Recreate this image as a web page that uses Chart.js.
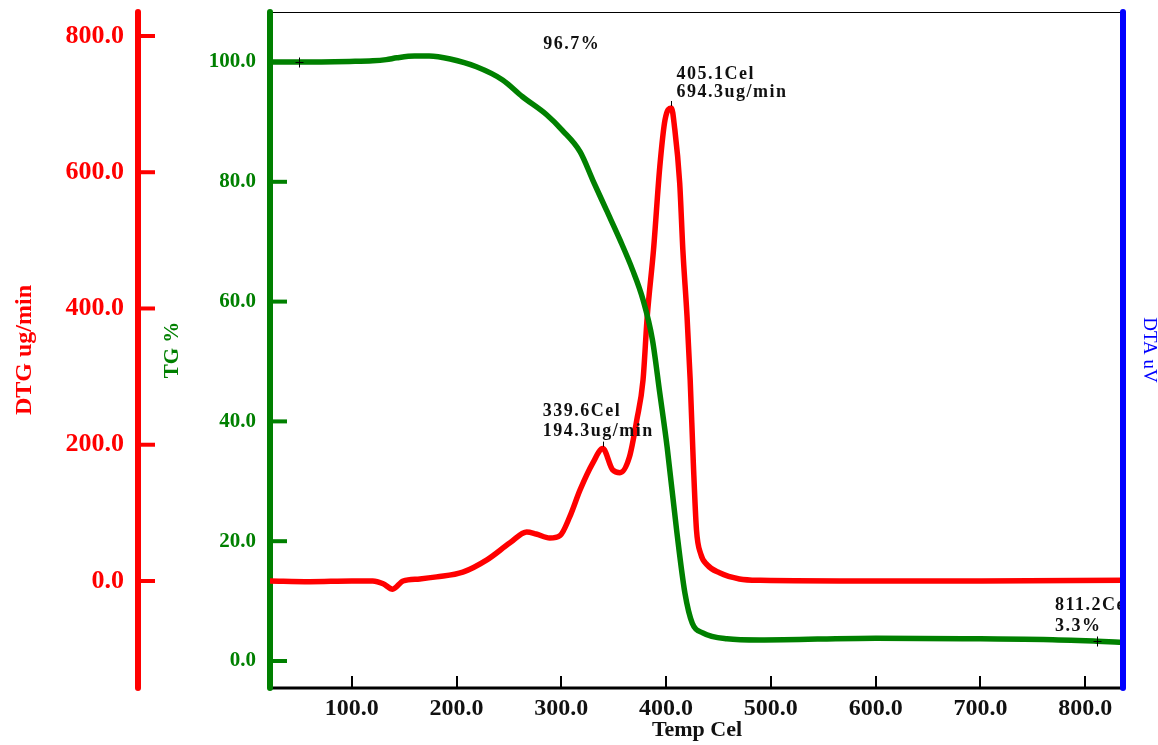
<!DOCTYPE html>
<html>
<head>
<meta charset="utf-8">
<script src="https://cdn.jsdelivr.net/npm/chart.js@4.4.1/dist/chart.umd.min.js"></script>
<style>
  body { margin: 0; background: #fff; }
  #wrap { width: 1158px; height: 745px; }
</style>
</head>
<body>
<div id="wrap"><canvas id="chart" width="1158" height="745"></canvas></div>
<script>
// tick values
const tempTicks = [100, 200, 300, 400, 500, 600, 700, 800];
const tgTicks = [0, 20, 40, 60, 80, 100];
const dtgTicks = [0, 200, 400, 600, 800];

// TG curve (%)
const tgTemp = [22, 50, 98, 120, 133, 143, 160, 174, 194, 219, 244, 263, 286, 301, 318, 330, 343, 356, 368, 378, 387, 394, 401, 410, 418, 425, 435, 458, 489, 600, 700, 760, 811.2, 837];
const tgValues = [100.0, 100.0, 100.1, 100.2, 100.4, 100.7, 101.0, 101.0, 100.5, 99.2, 97.0, 94.2, 91.2, 88.6, 85.0, 80.3, 75.3, 70.3, 65.3, 60.3, 53.6, 44.7, 35.7, 21.9, 11.3, 6.3, 4.7, 3.7, 3.5, 3.8, 3.7, 3.6, 3.3, 3.1];

// DTG curve (ug/min)
const dtgTemp = [22, 60, 100, 120, 130, 139, 149, 165, 181, 206, 229, 251, 267, 276, 289, 299, 308, 318, 330, 339.6, 349, 356, 365, 372, 378, 382, 388, 394, 399, 405.1, 408, 413, 416, 420, 423, 426, 429, 433, 439, 451, 470, 490, 600, 700, 837];
const dtgValues = [0, -1, 0, 0, -4, -12, 0, 3, 6, 13, 31, 56, 72, 69, 63, 67, 94, 134, 173, 194.3, 163, 159, 182, 236, 295, 388, 486, 608, 677, 694.3, 667, 584, 486, 388, 295, 173, 75, 40, 24, 12, 3, 1, 0, 0, 1];

// annotations
const noteLines = [['96.7%'], ['405.1Cel', '694.3ug/min'], ['339.6Cel', '194.3ug/min'], ['811.2Cel', '3.3%']];
const noteTemp = [300, 405.1, 339.6, 811.2];
const noteValue = [100, 694.3, 194.3, 3.3];
const noteAxis = ['yTG', 'yDTG', 'yDTG', 'yTG'];
const markTemp = [50, 811.2];
const markValue = [100, 3.3];

const RED = '#ff0000', GREEN = '#008000', BLUE = '#0000ff';
const SERIF = "'Liberation Serif', 'Times New Roman', serif";

function pts(xs, ys) {
  return xs.map((x, i) => ({ x: x, y: ys[i] }));
}

// label offsets in px from the anchor point: [dx, dy of first baseline, line gap]
const noteOffsets = [[-18, -13, 0], [5, -29, 18.5], [-60, -33, 20], [-42, -31, 20.5]];

// drop the extra room chart.js keeps for half tick labels
function noPad(s) {
  s.paddingTop = 0;
  s.paddingBottom = 0;
  s.paddingLeft = 0;
  s.paddingRight = 0;
}

const axesPlugin = {
  id: 'axesPlugin',
  beforeDatasetsDraw(chart) {
    const ctx = chart.ctx;
    const a = chart.chartArea;
    const sx = chart.scales.x, sTG = chart.scales.yTG, sDTG = chart.scales.yDTG;
    ctx.save();
    ctx.lineCap = 'butt';
    // top frame line
    ctx.strokeStyle = '#000';
    ctx.lineWidth = 1;
    ctx.beginPath();
    ctx.moveTo(a.left, a.top + 0.5);
    ctx.lineTo(a.right, a.top + 0.5);
    ctx.stroke();
    // bottom axis
    ctx.lineWidth = 3;
    ctx.beginPath();
    ctx.moveTo(a.left, a.bottom);
    ctx.lineTo(a.right, a.bottom);
    ctx.stroke();
    ctx.lineWidth = 2;
    tempTicks.forEach(v => {
      const px = Math.round(sx.getPixelForValue(v));
      ctx.beginPath();
      ctx.moveTo(px, a.bottom);
      ctx.lineTo(px, a.bottom - 12);
      ctx.stroke();
    });
    // DTG axis (red)
    const rx = sDTG.right;
    ctx.strokeStyle = RED;
    ctx.lineWidth = 6;
    ctx.lineCap = 'round';
    ctx.beginPath();
    ctx.moveTo(rx, a.top);
    ctx.lineTo(rx, a.bottom);
    ctx.stroke();
    ctx.lineWidth = 4;
    ctx.lineCap = 'butt';
    dtgTicks.forEach(v => {
      const py = sDTG.getPixelForValue(v);
      ctx.beginPath();
      ctx.moveTo(rx, py);
      ctx.lineTo(rx + 17, py);
      ctx.stroke();
    });
    // TG axis (green)
    ctx.strokeStyle = GREEN;
    ctx.lineWidth = 6;
    ctx.lineCap = 'round';
    ctx.beginPath();
    ctx.moveTo(a.left, a.top);
    ctx.lineTo(a.left, a.bottom);
    ctx.stroke();
    ctx.lineWidth = 4;
    ctx.lineCap = 'butt';
    tgTicks.forEach(v => {
      const py = sTG.getPixelForValue(v);
      ctx.beginPath();
      ctx.moveTo(a.left, py);
      ctx.lineTo(a.left + 17, py);
      ctx.stroke();
    });
    ctx.restore();
  },
  afterDatasetsDraw(chart) {
    const ctx = chart.ctx;
    const a = chart.chartArea;
    const sx = chart.scales.x;
    ctx.save();
    // markers
    ctx.strokeStyle = '#000';
    ctx.lineWidth = 1;
    markTemp.forEach((t, i) => {
      const px = Math.round(sx.getPixelForValue(t)) + 0.5;
      const py = Math.round(chart.scales.yTG.getPixelForValue(markValue[i])) + 0.5;
      ctx.beginPath();
      ctx.moveTo(px - 4, py);
      ctx.lineTo(px + 4, py);
      ctx.moveTo(px, py - 5);
      ctx.lineTo(px, py + 5);
      ctx.stroke();
    });
    // text notes
    ctx.beginPath();
    ctx.rect(a.left, a.top, a.right - a.left - 3, a.bottom - a.top);
    ctx.clip();
    ctx.fillStyle = '#111';
    ctx.font = 'bold 18px ' + SERIF;
    ctx.letterSpacing = '1.5px';
    ctx.textAlign = 'left';
    ctx.textBaseline = 'alphabetic';
    noteLines.forEach((lines, i) => {
      const px = sx.getPixelForValue(noteTemp[i]);
      const py = chart.scales[noteAxis[i]].getPixelForValue(noteValue[i]);
      const off = noteOffsets[i];
      if (noteAxis[i] === 'yDTG') {
        ctx.beginPath();
        ctx.moveTo(Math.round(px) + 0.5, py - 7);
        ctx.lineTo(Math.round(px) + 0.5, py - 2);
        ctx.stroke();
      }
      lines.forEach((s, j) => {
        ctx.fillText(s, px + off[0], py + off[1] + j * off[2]);
      });
    });
    ctx.restore();
    // right DTA axis (blue)
    ctx.save();
    ctx.strokeStyle = BLUE;
    ctx.lineWidth = 6;
    ctx.lineCap = 'round';
    ctx.beginPath();
    ctx.moveTo(a.right - 1, a.top);
    ctx.lineTo(a.right - 1, a.bottom);
    ctx.stroke();
    ctx.restore();
  }
};

new Chart(document.getElementById('chart'), {
  type: 'line',
  data: {
    datasets: [
      {
        label: 'TG',
        data: pts(tgTemp, tgValues),
        yAxisID: 'yTG',
        borderColor: GREEN,
        borderWidth: 5.5,
        pointRadius: 0,
        cubicInterpolationMode: 'monotone'
      },
      {
        label: 'DTG',
        data: pts(dtgTemp, dtgValues),
        yAxisID: 'yDTG',
        borderColor: RED,
        borderWidth: 5.5,
        pointRadius: 0,
        cubicInterpolationMode: 'monotone'
      }
    ]
  },
  options: {
    responsive: false,
    animation: false,
    layout: { padding: { top: 12, left: 0, right: 0, bottom: 0 } },
    plugins: { legend: { display: false }, tooltip: { enabled: false } },
    scales: {
      x: {
        type: 'linear',
        position: 'bottom',
        min: 22,
        max: 837,
        afterBuildTicks: s => { s.ticks = tempTicks.map(v => ({ value: v })); },
        afterFit: s => { s.height = 57; noPad(s); },
        grid: { display: false, drawTicks: false },
        border: { display: false },
        ticks: {
          color: '#111',
          font: { family: SERIF, size: 24, weight: 'bold' },
          padding: 6,
          maxRotation: 0,
          callback: v => v.toFixed(1)
        },
        title: {
          display: true,
          text: 'Temp Cel',
          color: '#111',
          font: { family: SERIF, size: 22, weight: 'bold' },
          padding: { top: 0, bottom: 1 }
        }
      },
      yDTG: {
        type: 'linear',
        position: 'left',
        weight: 1,
        min: -157.1,
        max: 835.2,
        afterBuildTicks: s => { s.ticks = dtgTicks.map(v => ({ value: v })); },
        afterFit: s => { s.width = 138; noPad(s); },
        grid: { display: false, drawTicks: false },
        border: { display: false },
        ticks: {
          color: RED,
          font: { family: SERIF, size: 26, weight: 'bold' },
          padding: 14,
          callback: v => v.toFixed(1)
        },
        title: {
          display: true,
          text: 'DTG ug/min',
          color: RED,
          font: { family: SERIF, size: 24, weight: 'bold' },
          padding: { top: 10, bottom: 0 }
        }
      },
      yTG: {
        type: 'linear',
        position: 'left',
        weight: 0,
        min: -4.51,
        max: 108.35,
        afterBuildTicks: s => { s.ticks = tgTicks.map(v => ({ value: v })); },
        afterFit: s => { s.width = 132; noPad(s); },
        grid: { display: false, drawTicks: false },
        border: { display: false },
        ticks: {
          color: GREEN,
          font: { family: SERIF, size: 21, weight: 'bold' },
          padding: 14,
          callback: v => v.toFixed(1)
        },
        title: {
          display: true,
          text: 'TG %',
          color: GREEN,
          font: { family: SERIF, size: 21, weight: 'bold' },
          padding: { top: 22, bottom: 0 }
        }
      },
      yDTA: {
        type: 'linear',
        position: 'right',
        min: 0,
        max: 1,
        afterFit: s => { s.width = 34; noPad(s); },
        grid: { display: false, drawTicks: false },
        border: { display: false },
        ticks: { display: false },
        title: {
          display: true,
          text: 'DTA uV',
          color: BLUE,
          font: { family: SERIF, size: 19, lineHeight: 1 },
          padding: { top: 0, bottom: 0 }
        }
      }
    }
  },
  plugins: [axesPlugin]
});
</script>
</body>
</html>
